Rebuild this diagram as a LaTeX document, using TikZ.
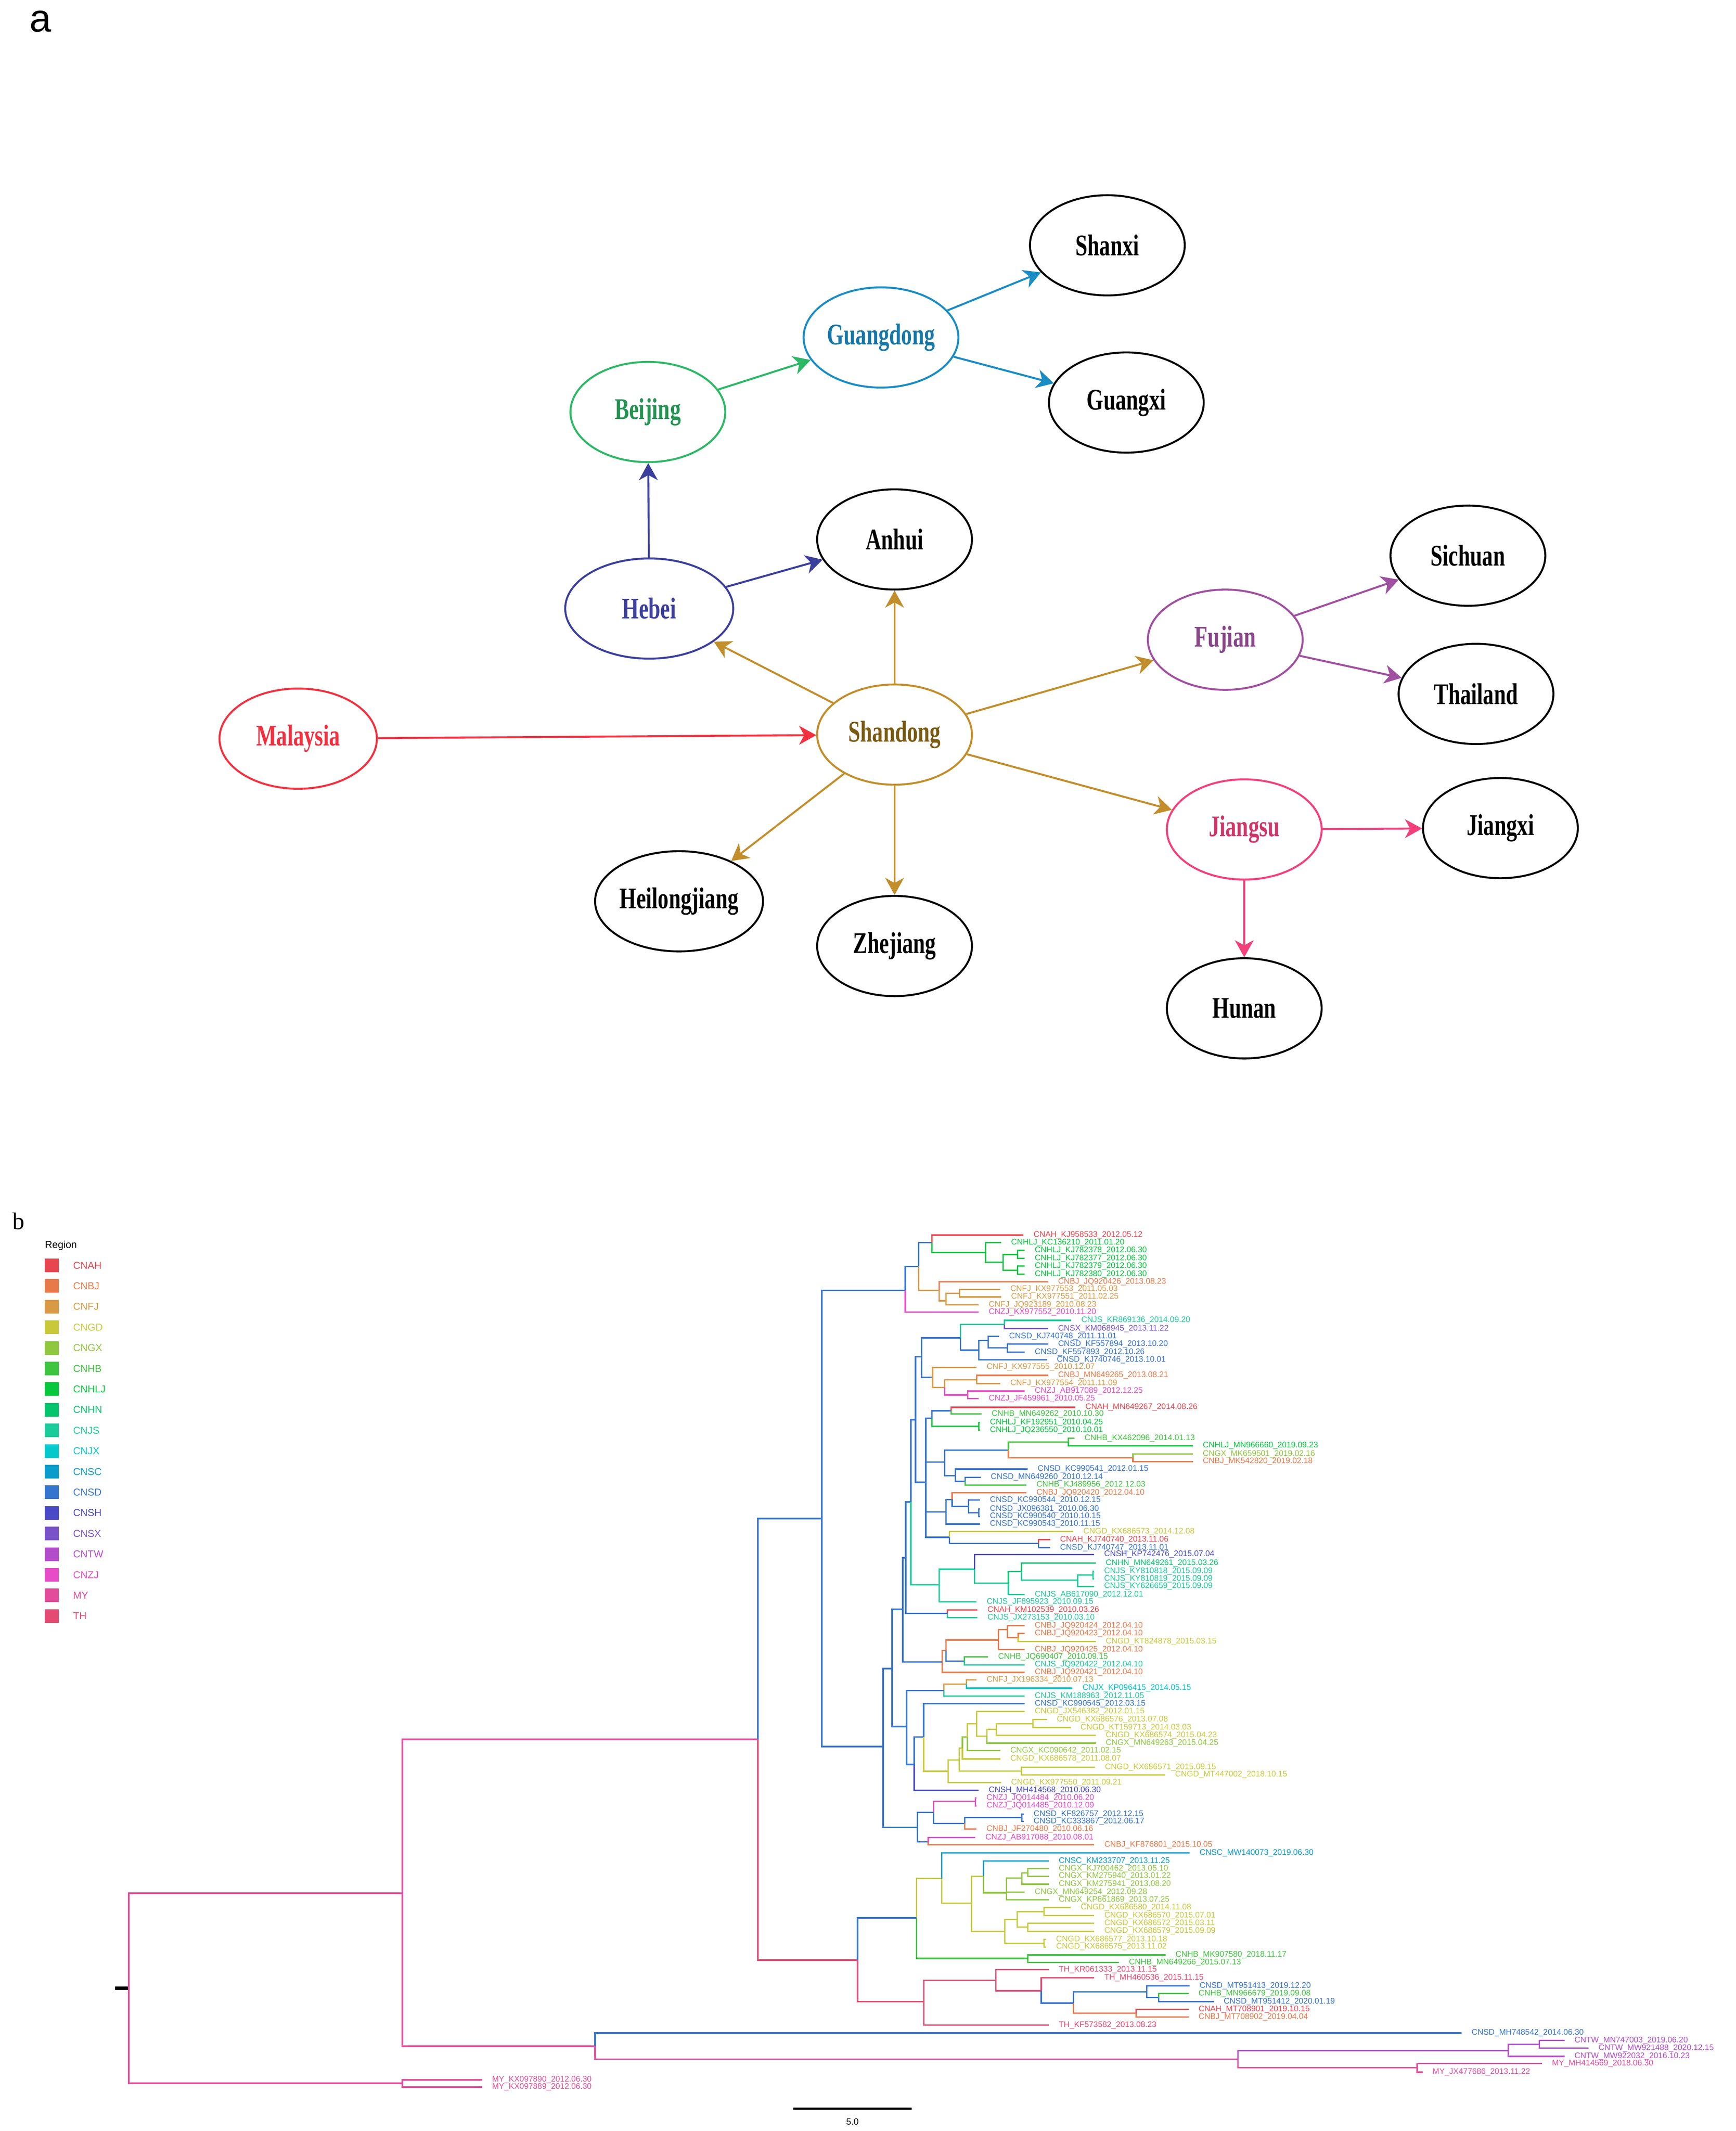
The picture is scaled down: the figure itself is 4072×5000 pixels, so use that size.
\documentclass[tikz,border=0pt]{standalone}
\usepackage{fontspec}
\usepackage{graphicx}
\setmainfont{Liberation Serif}
\newfontfamily\sansf{Liberation Sans}
\usetikzlibrary{shapes.geometric,arrows.meta}
\definecolor{cAH}{HTML}{E8464F}
\definecolor{cBJ}{HTML}{E87A4A}
\definecolor{cFJ}{HTML}{D99A45}
\definecolor{cGD}{HTML}{C9C83A}
\definecolor{cGX}{HTML}{8FC83E}
\definecolor{cHB}{HTML}{3EC43E}
\definecolor{cHLJ}{HTML}{05C83C}
\definecolor{cHN}{HTML}{05C46E}
\definecolor{cJS}{HTML}{1CCB9A}
\definecolor{cJX}{HTML}{05C8CC}
\definecolor{cSC}{HTML}{0A9CCB}
\definecolor{cSD}{HTML}{3574CF}
\definecolor{cSH}{HTML}{4A4AC8}
\definecolor{cSX}{HTML}{7A52C8}
\definecolor{cTW}{HTML}{B24CCB}
\definecolor{cZJ}{HTML}{E64CC8}
\definecolor{cMY}{HTML}{E24C9A}
\definecolor{cTH}{HTML}{E44A72}
\definecolor{gold}{HTML}{C28E2C}
\definecolor{goldT}{HTML}{7A5A12}
\definecolor{mred}{HTML}{F2303F}
\definecolor{navy}{HTML}{3B3F9C}
\definecolor{bjg}{HTML}{2DB866}
\definecolor{gdb}{HTML}{1A8CC4}
\definecolor{fjp}{HTML}{A050A0}
\definecolor{jsp}{HTML}{F2407A}
\newcommand\nm[1]{\scalebox{0.72}[1]{\bfseries #1}}
\newcommand\tE[5]{\draw[br,#1] (#2,#3) |- (#4,#5);}
\newcommand\tL[6]{\draw[br,#1] (#2,#3) |- (#4,#5) node[lab]{#6};}
\begin{document}
\begin{tikzpicture}[x=0.01cm,y=-0.01cm,
  br/.style={line width=0.9pt},
  lab/.style={anchor=west,inner sep=0pt,xshift=0.22cm,font=\sansf\fontsize{5.4}{6}\selectfont},
  reg/.style={ellipse,draw,line width=1.3pt,minimum width=3.63cm,minimum height=2.35cm,inner sep=0pt,font=\fontsize{20}{24}\selectfont},
  arr/.style={line width=1.3pt,-{Stealth[length=4mm,width=4.4mm,inset=1.2mm]}},
  lg/.style={anchor=west,inner sep=0pt,font=\sansf\fontsize{6.7}{8}\selectfont}]
\useasboundingbox (0,0) rectangle (4072,5000);
\fill[white] (0,0) rectangle (4072,5000);
% ---------------- part a
\node[font=\sansf\fontsize{26}{30}\selectfont] (la) at (95,50) {a};
\begin{scope}[scale=3.18]
\node[reg,draw=mred,text=mred,minimum width=3.69cm] (mal) at (220,545) {\nm{Malaysia}};
\node[reg,draw=gold,text=goldT] (shd) at (660,542) {\nm{Shandong}};
\node[reg,draw=navy,text=navy,minimum width=3.94cm] (heb) at (479,449) {\nm{Hebei}};
\node[reg,draw=bjg,text=bjg!80!black] (bj) at (478,304) {\nm{Beijing}};
\node[reg,draw=gdb,text=gdb!85!black] (gd) at (650,249) {\nm{Guangdong}};
\node[reg] (sx) at (817,181) {\nm{Shanxi}};
\node[reg] (gx) at (831,297) {\nm{Guangxi}};
\node[reg] (ah) at (660,398) {\nm{Anhui}};
\node[reg,draw=fjp,text=fjp!85!black] (fj) at (904,472) {\nm{Fujian}};
\node[reg] (sc) at (1083,410) {\nm{Sichuan}};
\node[reg] (th) at (1089,512) {\nm{Thailand}};
\node[reg,draw=jsp,text=jsp!85!black] (js) at (918,612) {\nm{Jiangsu}};
\node[reg] (jx) at (1107,611) {\nm{Jiangxi}};
\node[reg,minimum width=3.82cm] (hlj) at (501,665) {\nm{Heilongjiang}};
\node[reg] (zj) at (660,698) {\nm{Zhejiang}};
\node[reg] (hn) at (918,744) {\nm{Hunan}};
\draw[arr,mred] (mal) -- (shd);
\draw[arr,gold] (shd) -- (heb);
\draw[arr,gold] (shd) -- (ah);
\draw[arr,gold] (shd) -- (fj);
\draw[arr,gold] (shd) -- (js);
\draw[arr,gold] (shd) -- (hlj);
\draw[arr,gold] (shd) -- (zj);
\draw[arr,navy] (heb) -- (bj);
\draw[arr,navy] (heb) -- (ah);
\draw[arr,bjg] (bj) -- (gd);
\draw[arr,gdb] (gd) -- (sx);
\draw[arr,gdb] (gd) -- (gx);
\draw[arr,fjp] (fj) -- (sc);
\draw[arr,fjp] (fj) -- (th);
\draw[arr,jsp] (js) -- (jx);
\draw[arr,jsp] (js) -- (hn);
\end{scope}
% ---------------- part b
\node[font=\fontsize{16}{18}\selectfont] (lb) at (44,2865) {b};
\node[anchor=west,inner sep=0pt,font=\sansf\fontsize{6.7}{8}\selectfont] (rg) at (105,2922) {Region};
\foreach \c/\t [count=\k from 0] in {cAH/CNAH,cBJ/CNBJ,cFJ/CNFJ,cGD/CNGD,cGX/CNGX,cHB/CNHB,cHLJ/CNHLJ,cHN/CNHN,cJS/CNJS,cJX/CNJX,cSC/CNSC,cSD/CNSD,cSH/CNSH,cSX/CNSX,cTW/CNTW,cZJ/CNZJ,cMY/MY,cTH/TH}{
  \fill[\c] (105,{2953+48.4*\k}) rectangle (138,{2985+48.4*\k});
  \node[lg,text=\c] (lg\k) at (171,{2969+48.4*\k}) {\t};
}
% zoom region 1
\begin{scope}[shift={(2100,2860)},xscale=0.957,yscale=0.4464]
\coordinate (a0) at (25,375);
\coordinate (nL) at (65,724);
\coordinate (c0) at (90,1048);
\coordinate (d0) at (122,1277);
\coordinate (e0) at (125,1540);
\tE{cSD}{25}{375}{58}{250}
\tL{cZJ}{25}{375}{205}{490}{CNZJ\_KX977552\_2010.11.20}
\tE{cSD}{58}{250}{90}{125}
\tE{cFJ}{58}{250}{108}{375}
\tL{cAH}{90}{125}{315}{85}{CNAH\_KJ958533\_2012.05.12}
\tE{cHLJ}{90}{125}{222}{175}
\tL{cHLJ}{222}{175}{260}{125}{CNHLJ\_KC136210\_2011.01.20}
\tE{cHLJ}{222}{175}{265}{228}
\tE{cHLJ}{265}{228}{300}{187}
\tE{cHLJ}{265}{228}{300}{270}
\tL{cHLJ}{300}{187}{318}{165}{CNHLJ\_KJ782378\_2012.06.30}
\tL{cHLJ}{300}{187}{318}{207}{CNHLJ\_KJ782377\_2012.06.30}
\tL{cHLJ}{300}{270}{318}{248}{CNHLJ\_KJ782379\_2012.06.30}
\tL{cHLJ}{300}{270}{318}{290}{CNHLJ\_KJ782380\_2012.06.30}
\tL{cBJ}{108}{375}{375}{330}{CNBJ\_JQ920426\_2013.08.23}
\tE{cFJ}{108}{375}{125}{430}
\tE{cFJ}{125}{430}{158}{390}
\tL{cFJ}{125}{430}{205}{452}{CNFJ\_JQ923189\_2010.08.23}
\tL{cFJ}{158}{390}{258}{370}{CNFJ\_KX977553\_2011.05.03}
\tL{cFJ}{158}{390}{260}{410}{CNFJ\_KX977551\_2011.02.25}
\tE{cSD}{65}{724}{160}{625}
\tE{cSD}{65}{724}{92}{833}
\tE{cJS}{160}{625}{268}{555}
\tE{cSD}{160}{625}{205}{690}
\tL{cJS}{268}{555}{432}{533}{CNJS\_KR869136\_2014.09.20}
\tL{cSX}{268}{555}{375}{577}{CNSX\_KM068945\_2013.11.22}
\tE{cSD}{205}{690}{228}{640}
\tL{cSD}{205}{690}{372}{740}{CNSD\_KJ740746\_2013.10.01}
\tL{cSD}{228}{640}{255}{618}{CNSD\_KJ740748\_2011.11.01}
\tE{cSD}{228}{640}{275}{678}
\tL{cSD}{275}{678}{375}{658}{CNSD\_KF557894\_2013.10.20}
\tL{cSD}{275}{678}{318}{700}{CNSD\_KF557893\_2012.10.26}
\tL{cFJ}{92}{833}{200}{780}{CNFJ\_KX977555\_2010.12.07}
\tE{cFJ}{92}{833}{122}{885}
\tE{cFJ}{122}{885}{200}{845}
\tE{cZJ}{122}{885}{178}{925}
\tL{cBJ}{200}{845}{375}{822}{CNBJ\_MN649265\_2013.08.21}
\tL{cFJ}{200}{845}{258}{865}{CNFJ\_KX977554\_2011.11.09}
\tL{cZJ}{178}{925}{318}{905}{CNZJ\_AB917089\_2012.12.25}
\tL{cZJ}{178}{925}{205}{945}{CNZJ\_JF459961\_2010.05.25}
\tE{cSD}{90}{1048}{137}{1008}
\tE{cHLJ}{90}{1048}{205}{1090}
\tL{cAH}{137}{1008}{442}{990}{CNAH\_MN649267\_2014.08.26}
\tL{cHB}{137}{1008}{212}{1025}{CNHB\_MN649262\_2010.10.30}
\tL{cHLJ}{205}{1090}{208}{1070}{CNHLJ\_KF192951\_2010.04.25}
\tL{cHLJ}{205}{1090}{208}{1110}{CNHLJ\_JQ236550\_2010.10.01}
\tE{cSD}{122}{1277}{278}{1215}
\tE{cSD}{122}{1277}{148}{1350}
\tE{cHB}{278}{1215}{425}{1172}
\tE{cBJ}{278}{1215}{583}{1255}
\tL{cHB}{425}{1172}{440}{1152}{CNHB\_KX462096\_2014.01.13}
\tL{cHLJ}{425}{1172}{730}{1192}{CNHLJ\_MN966660\_2019.09.23}
\tL{cGX}{583}{1255}{730}{1235}{CNGX\_MK659501\_2019.02.16}
\tL{cBJ}{583}{1255}{730}{1275}{CNBJ\_MK542820\_2019.02.18}
\tL{cSD}{148}{1350}{325}{1315}{CNSD\_KC990541\_2012.01.15}
\tE{cSD}{148}{1350}{172}{1378}
\tL{cSD}{172}{1378}{210}{1358}{CNSD\_MN649260\_2010.12.14}
\tL{cHB}{172}{1378}{322}{1398}{CNHB\_KJ489956\_2012.12.03}
\tE{cSD}{125}{1540}{140}{1475}
\tL{cSD}{125}{1540}{208}{1604}{CNSD\_KC990543\_2010.11.15}
\tL{cBJ}{140}{1475}{322}{1440}{CNBJ\_JQ920420\_2012.04.10}
\tE{cSD}{140}{1475}{180}{1511}
\tL{cSD}{180}{1511}{208}{1478}{CNSD\_KC990544\_2010.12.15}
\tE{cSD}{180}{1511}{205}{1545}
\tL{cSD}{205}{1545}{208}{1525}{CNSD\_JX096381\_2010.06.30}
\tL{cSD}{205}{1545}{208}{1564}{CNSD\_KC990540\_2010.10.15}
\end{scope}
% zoom region 2
\begin{scope}[shift={(2100,3540)},xscale=0.957,yscale=0.4464]
\coordinate (f0) at (133,150);
\coordinate (J) at (108,400);
\coordinate (G2) at (128,550);
\coordinate (H) at (115,806);
\coordinate (k0) at (120,955);
\coordinate (k1) at (47,1344);
\tL{cGD}{133}{150}{437}{120}{CNGD\_KX686573\_2014.12.08}
\tE{cSD}{133}{150}{352}{182}
\tL{cAH}{352}{182}{380}{162}{CNAH\_KJ740740\_2013.11.06}
\tL{cSD}{352}{182}{380}{205}{CNSD\_KJ740747\_2013.11.01}
\tE{cJS}{108}{400}{195}{318}
\tL{cJS}{108}{400}{200}{490}{CNJS\_JF895923\_2010.09.15}
\tL{cSH}{195}{318}{488}{240}{CNSH\_KP742476\_2015.07.04}
\tE{cJS}{195}{318}{278}{390}
\tE{cHN}{278}{390}{310}{330}
\tL{cJS}{278}{390}{318}{452}{CNJS\_AB617090\_2012.12.01}
\tL{cHN}{310}{330}{492}{285}{CNHN\_MN649261\_2015.03.26}
\tE{cJS}{310}{330}{448}{375}
\tE{cJS}{448}{375}{485}{348}
\tL{cJS}{448}{375}{488}{408}{CNJS\_KY626659\_2015.09.09}
\tL{cJS}{485}{348}{488}{328}{CNJS\_KY810818\_2015.09.09}
\tL{cJS}{485}{348}{488}{368}{CNJS\_KY810819\_2015.09.09}
\tL{cAH}{128}{550}{202}{532}{CNAH\_KM102539\_2010.03.26}
\tL{cJS}{128}{550}{202}{572}{CNJS\_JX273153\_2010.03.10}
\tE{cBJ}{115}{806}{125}{745}
\tL{cBJ}{115}{806}{318}{860}{CNBJ\_JQ920421\_2012.04.10}
\tE{cBJ}{125}{745}{253}{690}
\tE{cSD}{125}{745}{170}{800}
\tE{cBJ}{253}{690}{275}{635}
\tL{cBJ}{253}{690}{318}{740}{CNBJ\_JQ920425\_2012.04.10}
\tL{cBJ}{275}{635}{318}{615}{CNBJ\_JQ920424\_2012.04.10}
\tE{cBJ}{275}{635}{302}{677}
\tL{cBJ}{302}{677}{318}{655}{CNBJ\_JQ920423\_2012.04.10}
\tL{cGD}{302}{677}{492}{698}{CNGD\_KT824878\_2015.03.15}
\tL{cHB}{170}{800}{228}{778}{CNHB\_JQ690407\_2010.09.15}
\tL{cJS}{170}{800}{318}{820}{CNJS\_JQ920422\_2012.04.10}
\tE{cFJ}{120}{955}{175}{921}
\tL{cJS}{120}{955}{318}{985}{CNJS\_KM188963\_2012.11.05}
\tL{cFJ}{175}{921}{200}{900}{CNFJ\_JX196334\_2010.07.13}
\tL{cJX}{175}{921}{435}{943}{CNJX\_KP096415\_2014.05.15}
\tE{cSD}{47}{1344}{70}{1200}
\tL{cSH}{47}{1344}{205}{1480}{CNSH\_MH414568\_2010.06.30}
\tL{cSD}{70}{1200}{318}{1025}{CNSD\_KC990545\_2012.03.15}
\tE{cGD}{70}{1200}{130}{1380}
\tE{cGD}{130}{1380}{157}{1320}
\tL{cGD}{130}{1380}{260}{1440}{CNGD\_KX977550\_2011.09.21}
\tE{cGD}{157}{1320}{165}{1258}
\tE{cGD}{157}{1320}{310}{1378}
\tL{cGD}{310}{1378}{490}{1358}{CNGD\_KX686571\_2015.09.15}
\tL{cGD}{310}{1378}{662}{1398}{CNGD\_MT447002\_2018.10.15}
\tE{cGX}{165}{1258}{177}{1200}
\tL{cGD}{165}{1258}{258}{1315}{CNGD\_KX686578\_2011.08.07}
\tE{cGD}{177}{1200}{200}{1130}
\tL{cGX}{177}{1200}{258}{1272}{CNGX\_KC090642\_2011.02.15}
\tL{cGD}{200}{1130}{318}{1065}{CNGD\_JX546382\_2012.01.15}
\tE{cGD}{200}{1130}{225}{1195}
\tE{cGD}{225}{1195}{248}{1160}
\tL{cGX}{225}{1195}{492}{1232}{CNGX\_MN649263\_2015.04.25}
\tE{cGD}{248}{1160}{338}{1130}
\tL{cGD}{248}{1160}{492}{1190}{CNGD\_KX686574\_2015.04.23}
\tL{cGD}{338}{1130}{372}{1108}{CNGD\_KX686576\_2013.07.08}
\tL{cGD}{338}{1130}{430}{1150}{CNGD\_KT159713\_2014.03.03}
\end{scope}
% zoom region 3
\begin{scope}[shift={(2100,4220)},xscale=1.2564,yscale=0.4464]
\coordinate (K) at (42,152);
\coordinate (Q) at (40,627);
\coordinate (T) at (54,1068);
\coordinate (V) at (640,1370);
\coordinate (mh) at (1058,1232);
\tE{cSD}{42}{152}{72}{72}
\tE{cSD}{42}{152}{62}{228}
\tE{cZJ}{72}{72}{150}{15}
\tE{cSD}{72}{72}{130}{130}
\tL{cZJ}{150}{15}{152}{-3}{CNZJ\_JQ014484\_2010.06.20}
\tL{cZJ}{150}{15}{152}{38}{CNZJ\_JQ014485\_2010.12.09}
\tE{cSD}{130}{130}{237}{100}
\tL{cBJ}{130}{130}{152}{160}{CNBJ\_JF270480\_2010.06.16}
\tL{cSD}{237}{100}{240}{82}{CNSD\_KF826757\_2012.12.15}
\tL{cSD}{237}{100}{240}{120}{CNSD\_KC333867\_2012.06.17}
\tL{cZJ}{62}{228}{150}{205}{CNZJ\_AB917088\_2010.08.01}
\tL{cBJ}{62}{228}{372}{243}{CNBJ\_KF876801\_2015.10.05}
\tE{cGD}{40}{627}{87}{420}
\tE{cHB}{40}{627}{248}{840}
\tL{cHB}{248}{840}{505}{822}{CNHB\_MK907580\_2018.11.17}
\tL{cHB}{248}{840}{418}{862}{CNHB\_MN649266\_2015.07.13}
\tL{cSC}{87}{420}{550}{285}{CNSC\_MW140073\_2019.06.30}
\tE{cGD}{87}{420}{143}{550}
\tE{cGD}{143}{550}{165}{408}
\tE{cGD}{143}{550}{205}{697}
\tL{cSC}{165}{408}{287}{328}{CNSC\_KM233707\_2013.11.25}
\tE{cGX}{165}{408}{208}{495}
\tE{cGX}{208}{495}{237}{418}
\tL{cGX}{208}{495}{242}{492}{CNGX\_MN649254\_2012.09.28}
\tL{cGX}{208}{495}{287}{532}{CNGX\_KP861869\_2013.07.25}
\tE{cGX}{237}{418}{248}{390}
\tL{cGX}{237}{418}{287}{450}{CNGX\_KM275941\_2013.08.20}
\tL{cGX}{248}{390}{287}{368}{CNGX\_KJ700462\_2013.05.10}
\tL{cGX}{248}{390}{287}{408}{CNGX\_KM275940\_2013.01.22}
\tE{cGD}{205}{697}{228}{635}
\tE{cGD}{205}{697}{278}{760}
\tE{cGD}{228}{635}{278}{595}
\tE{cGD}{228}{635}{248}{675}
\tL{cGD}{278}{595}{328}{573}{CNGD\_KX686580\_2014.11.08}
\tL{cGD}{278}{595}{372}{615}{CNGD\_KX686570\_2015.07.01}
\tL{cGD}{248}{675}{372}{655}{CNGD\_KX686572\_2015.03.11}
\tL{cGD}{248}{675}{372}{697}{CNGD\_KX686579\_2015.09.09}
\tL{cGD}{278}{760}{282}{740}{CNGD\_KX686577\_2013.10.18}
\tL{cGD}{278}{760}{282}{780}{CNGD\_KX686575\_2013.11.02}
\tE{cTH}{54}{1068}{188}{955}
\tL{cTH}{54}{1068}{287}{1190}{TH\_KF573582\_2013.08.23}
\tL{cTH}{188}{955}{287}{900}{TH\_KR061333\_2013.11.15}
\tE{cTH}{188}{955}{273}{1010}
\tL{cTH}{273}{1010}{372}{942}{TH\_MH460536\_2015.11.15}
\tE{cSD}{273}{1010}{333}{1075}
\tE{cSD}{333}{1075}{470}{1015}
\tE{cBJ}{333}{1075}{450}{1128}
\tL{cSD}{470}{1015}{550}{985}{CNSD\_MT951413\_2019.12.20}
\tE{cSD}{470}{1015}{492}{1045}
\tL{cHB}{492}{1045}{548}{1025}{CNHB\_MN966679\_2019.09.08}
\tL{cSD}{492}{1045}{595}{1068}{CNSD\_MT951412\_2020.01.19}
\tL{cAH}{450}{1128}{548}{1108}{CNAH\_MT708901\_2019.10.15}
\tL{cBJ}{450}{1128}{548}{1148}{CNBJ\_MT708902\_2019.04.04}
\tE{cTW}{640}{1370}{1145}{1325}
\tE{cMY}{640}{1370}{975}{1415}
\tE{cTW}{1145}{1325}{1203}{1292}
\tL{cTW}{1145}{1325}{1250}{1355}{CNTW\_MW922032\_2016.10.23}
\tL{cTW}{1203}{1292}{1250}{1272}{CNTW\_MN747003\_2019.06.20}
\tL{cTW}{1203}{1292}{1295}{1312}{CNTW\_MW921488\_2020.12.15}
\tL{cMY}{975}{1415}{1208}{1393}{MY\_MH414569\_2018.06.30}
\tL{cMY}{975}{1415}{985}{1438}{MY\_JX477686\_2013.11.22}
\end{scope}
% backbone
\coordinate (root) at (302,4665);
\coordinate (tick) at (270,4665);
\coordinate (S) at (944,4442);
\coordinate (MYn) at (944,4888);
\coordinate (my1) at (1131,4880);
\coordinate (my2) at (1131,4897);
\coordinate (R1) at (1778,4081);
\coordinate (U) at (1396,4801);
\coordinate (B) at (1928,3563);
\coordinate (P1) at (2012,4599);
\coordinate (C) at (2072,4098);
\coordinate (D) at (2093,3915);
\coordinate (E) at (2118,3776);
\coordinate (F) at (2127,4051);
\coordinate (G) at (2125,3655);
\coordinate (G1) at (2137,3524);
\coordinate (I) at (2148,3331);
\coordinate (M) at (2172,3478);
\draw[black,line width=2.2pt] (tick) -- (root);
\draw[br,cMY] (root) |- (S);
\draw[br,cMY] (root) |- (MYn);
\draw[br,cMY] (MYn) |- (my1) node[lab]{MY\_KX097890\_2012.06.30};
\draw[br,cMY] (MYn) |- (my2) node[lab]{MY\_KX097889\_2012.06.30};
\draw[br,cMY] (S) |- (R1);
\draw[br,cMY] (S) |- (U);
\draw[br,cSD] (U) |- (mh) node[lab]{CNSD\_MH748542\_2014.06.30};
\draw[br,cMY] (U) |- (V);
\draw[br,cSD] (R1) |- (B);
\draw[br,cTH] (R1) |- (P1);
\draw[br,cSD] (P1) |- (Q);
\draw[br,cTH] (P1) |- (T);
\draw[br,cSD] (B) |- (a0);
\draw[br,cSD] (B) |- (C);
\draw[br,cSD] (C) |- (D);
\draw[br,cSD] (C) |- (K);
\draw[br,cSD] (D) |- (E);
\draw[br,cSD] (D) |- (F);
\draw[br,cSD] (E) |- (G);
\draw[br,cSD] (E) |- (H);
\draw[br,cSD] (G) |- (G1);
\draw[br,cSD] (G) |- (G2);
\draw[br,cSD] (G1) |- (I);
\draw[br,cJS] (G1) |- (J);
\draw[br,cSD] (I) |- (nL);
\draw[br,cSD] (I) |- (M);
\draw[br,cSD] (M) |- (c0);
\draw[br,cSD] (M) |- (d0);
\draw[br,cSD] (M) |- (e0);
\draw[br,cSD] (M) |- (f0);
\draw[br,cSD] (F) |- (k0);
\draw[br,cSD] (F) |- (k1);
% scale bar
\coordinate (sb1) at (1861,4947);
\coordinate (sb2) at (2139,4947);
\draw[black,line width=1.4pt] (sb1) -- (sb2);
\node[font=\sansf\fontsize{6}{7}\selectfont] (sbl) at (2000,4978) {5.0};
\end{tikzpicture}
\end{document}
